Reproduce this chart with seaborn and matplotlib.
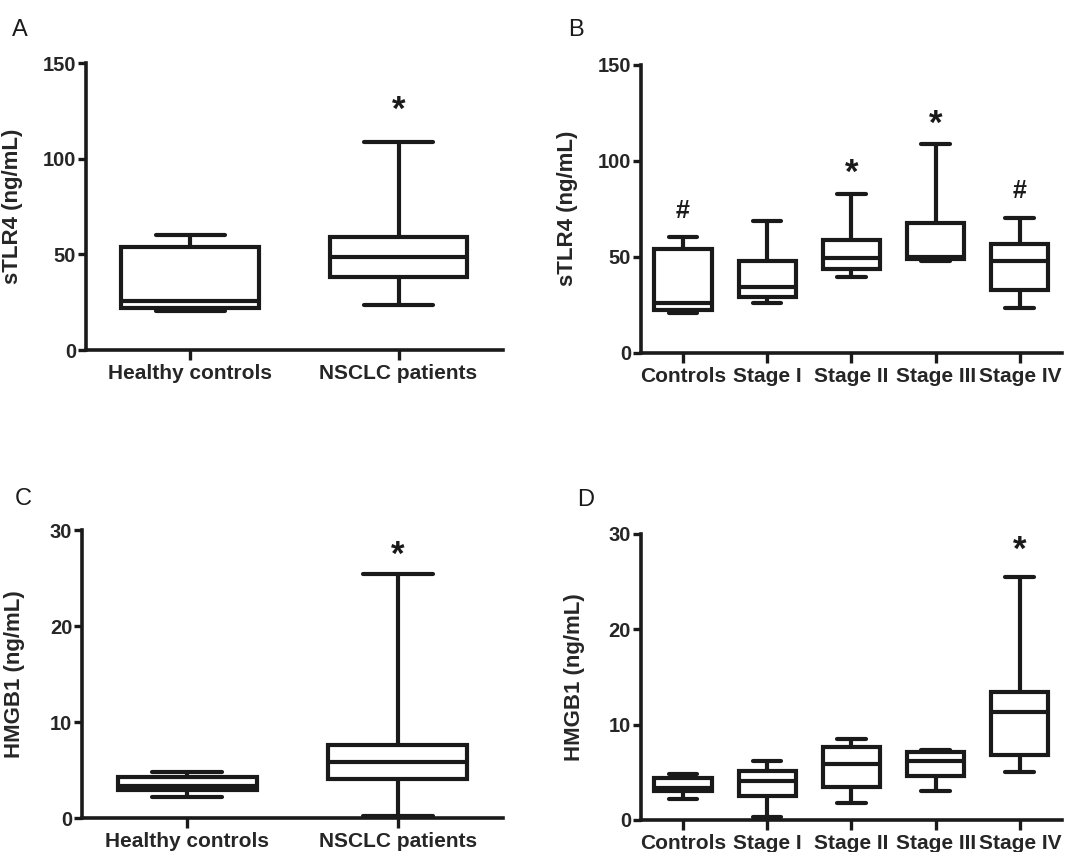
import numpy as np
import pandas as pd
import seaborn as sns
import matplotlib.pyplot as plt

# five-number summaries: min, q1, median, q3, max
two_groups = ['Healthy controls', 'NSCLC patients']
stages = ['Controls', 'Stage I', 'Stage II', 'Stage III', 'Stage IV']

tlr4_controls = [20.6, 22.2, 25.8, 53.8, 60.1]
tlr4_nsclc = [23.4, 38.3, 48.8, 58.9, 108.9]
tlr4_stage1 = [25.7, 28.8, 34.0, 47.7, 68.5]
tlr4_stage2 = [39.2, 43.4, 49.1, 58.6, 82.9]
tlr4_stage3 = [47.6, 48.7, 49.9, 67.6, 108.5]
tlr4_stage4 = [23.1, 32.6, 47.8, 56.5, 70.2]

hmgb1_controls = [2.22, 3.0, 3.35, 4.35, 4.86]
hmgb1_nsclc = [0.24, 4.09, 5.83, 7.63, 25.5]
hmgb1_stage1 = [0.28, 2.55, 4.11, 5.13, 6.2]
hmgb1_stage2 = [1.81, 3.49, 5.83, 7.67, 8.48]
hmgb1_stage3 = [3.07, 4.6, 6.2, 7.08, 7.33]
hmgb1_stage4 = [5.05, 6.8, 11.33, 13.43, 25.5]

# significance marks (symbol, y position)
marks_a = [None, ('*', 125.5)]
marks_b = [('#', 74), None, ('*', 93.3), ('*', 119)]
marks_b.append(('#', 84))
marks_c = [None, ('*', 27.4)]
marks_d = [None, None, None, None, ('*', 28.3)]

sns.set_style('white')
plt.rcParams['font.family'] = ['Liberation Sans', 'DejaVu Sans']


def long_df(groups, series):
    rows = []
    for g, vals in zip(groups, series):
        for v in vals:
            rows.append({'group': g, 'value': v})
    return pd.DataFrame(rows)


def panel(ax, groups, series, marks, ymax, yticks, ylabel, width, labx):
    df = long_df(groups, series)
    sns.boxplot(data=df, x='group', y='value', order=groups, ax=ax,
                whis=(0, 100), width=width, color='white', linecolor='#1a1a1a',
                linewidth=3.0, showfliers=False)
    ax.set_xlim(-0.5, len(groups) - 0.5)
    ax.set_ylim(0, ymax)
    ax.set_yticks(yticks)
    ax.set_xlabel('')
    ax.set_ylabel(ylabel, fontsize=16, fontweight='bold')
    ax.yaxis.set_label_coords(labx, 0.5)
    for s in ['top', 'right']:
        ax.spines[s].set_visible(False)
    for s in ['left', 'bottom']:
        ax.spines[s].set_linewidth(2.6)
        ax.spines[s].set_color('#1a1a1a')
    ax.tick_params(axis='y', direction='out', length=6, width=2.4, pad=1,
                   labelsize=14.5, left=True, color='#1a1a1a')
    ax.tick_params(axis='x', direction='out', length=7, width=2.4, pad=3,
                   labelsize=15, bottom=True, color='#1a1a1a')
    for lab in ax.get_xticklabels() + ax.get_yticklabels():
        lab.set_fontweight('bold')
    for i, m in enumerate(marks):
        if m is None:
            continue
        sym, yv = m
        size = 25 if sym == '*' else 18
        ax.text(i, yv, sym, ha='center', va='center', fontsize=size,
                fontweight='bold', color='#1a1a1a')


fig = plt.figure(figsize=(10.77, 8.52), dpi=100)
ax_a = fig.add_axes([0.0798, 0.589, 0.387, 0.337])
ax_b = fig.add_axes([0.595, 0.586, 0.391, 0.338])
ax_c = fig.add_axes([0.0761, 0.0395, 0.391, 0.338])
ax_d = fig.add_axes([0.595, 0.0376, 0.391, 0.336])

panel(ax_a, two_groups, [tlr4_controls, tlr4_nsclc], marks_a, 150,
      [0, 50, 100, 150], 'sTLR4 (ng/mL)', 0.66, -0.151)
panel(ax_b, stages, [tlr4_controls, tlr4_stage1, tlr4_stage2, tlr4_stage3, tlr4_stage4],
      marks_b, 150, [0, 50, 100, 150], 'sTLR4 (ng/mL)', 0.68, -0.15)
panel(ax_c, two_groups, [hmgb1_controls, hmgb1_nsclc], marks_c, 30,
      [0, 10, 20, 30], 'HMGB1 (ng/mL)', 0.66, -0.135)
panel(ax_d, stages, [hmgb1_controls, hmgb1_stage1, hmgb1_stage2, hmgb1_stage3, hmgb1_stage4],
      marks_d, 30, [0, 10, 20, 30], 'HMGB1 (ng/mL)', 0.68, -0.133)

for lbl, x, y in [('A', 12, 30), ('B', 568, 30), ('C', 15, 499), ('D', 577, 500)]:
    fig.text(x / 1077, 1 - y / 852, lbl, fontsize=17, ha='left', va='center',
             color='#1a1a1a')

fig.savefig('out.png', dpi=100)
